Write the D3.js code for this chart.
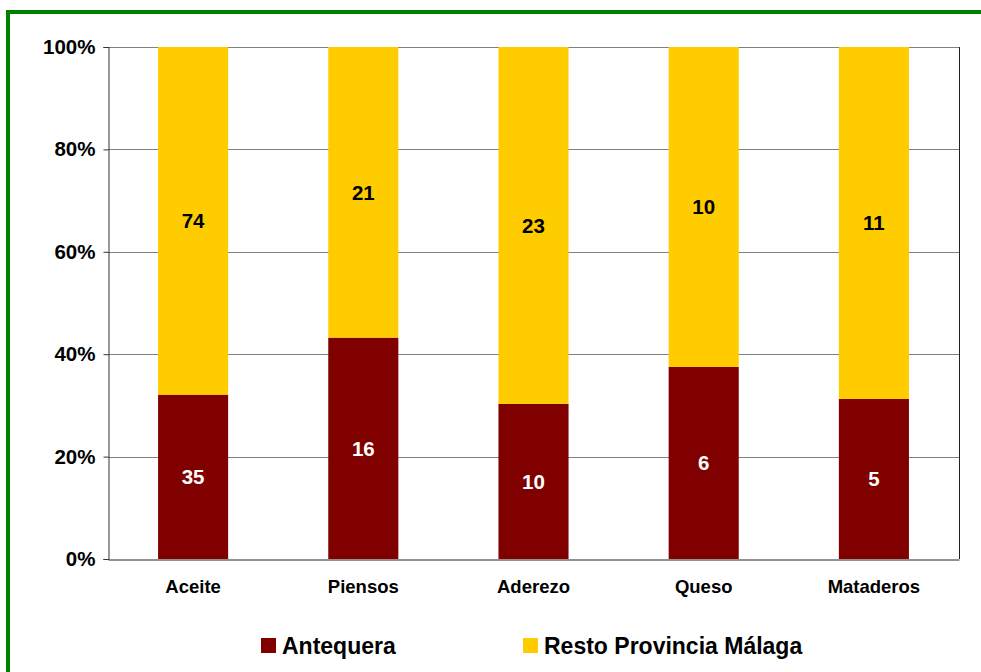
<!DOCTYPE html>
<html>
<head>
<meta charset="utf-8">
<script src="https://cdn.jsdelivr.net/npm/d3@7"></script>
<style>
  body { margin: 0; background: #fff; }
  svg text { font-family: "Liberation Sans", Arial, sans-serif; font-weight: bold; }
</style>
</head>
<body>
<div id="chart"></div>
<script>
// chart data
const categories = ['Aceite', 'Piensos', 'Aderezo', 'Queso', 'Mataderos'];
const antequera = [35, 16, 10, 6, 5];
const restoProvincia = [74, 21, 23, 10, 11];
const seriesNames = ['Antequera', 'Resto Provincia Málaga'];
const yTicks = [0, 0.2, 0.4, 0.6, 0.8, 1];

const width = 981, height = 672;
const margin = { top: 47, right: 22, bottom: 113, left: 108 };
const colors = ['#800000', '#FFCC00'];

const svg = d3.select('#chart').append('svg')
  .attr('width', width)
  .attr('height', height);

// green frame, runs off the right and bottom edges
svg.append('rect')
  .attr('x', 8).attr('y', 12)
  .attr('width', width + 20).attr('height', height + 20)
  .attr('fill', 'none')
  .attr('stroke', '#008000')
  .attr('stroke-width', 4);

const plotW = width - margin.left - margin.right;
const plotH = height - margin.top - margin.bottom;

const g = svg.append('g')
  .attr('transform', 'translate(' + margin.left + ',' + margin.top + ')');

const x = d3.scaleBand()
  .domain(categories)
  .range([0, plotW])
  .paddingInner(100 / 170)
  .paddingOuter(50 / 170);

const y = d3.scaleLinear().domain([0, 1]).range([plotH, 0]);

// gridlines
g.append('g').attr('class', 'grid')
  .selectAll('line')
  .data(yTicks.filter(d => d > 0))
  .enter().append('line')
  .attr('x1', 0).attr('x2', plotW)
  .attr('y1', d => Math.round(y(d)) + 0.5)
  .attr('y2', d => Math.round(y(d)) + 0.5)
  .attr('stroke', '#808080')
  .attr('stroke-width', 1);

// stacked shares
const rows = categories.map((c, i) => {
  const total = antequera[i] + restoProvincia[i];
  return { cat: c, vals: [antequera[i], restoProvincia[i]], total: total };
});

rows.forEach(row => {
  let acc = 0;
  row.vals.forEach((v, k) => {
    const y0 = acc / row.total;
    const y1 = (acc + v) / row.total;
    acc += v;
    g.append('rect')
      .attr('x', x(row.cat))
      .attr('y', y(y1))
      .attr('width', x.bandwidth())
      .attr('height', y(y0) - y(y1))
      .attr('fill', colors[k]);
    g.append('text')
      .attr('x', x(row.cat) + x.bandwidth() / 2)
      .attr('y', (y(y0) + y(y1)) / 2)
      .attr('dy', '0.36em')
      .attr('text-anchor', 'middle')
      .attr('font-size', 20.5)
      .attr('fill', k === 0 ? '#fff' : '#000')
      .text(v);
  });
});

// right border of plot
g.append('line')
  .attr('x1', plotW + 0.5).attr('x2', plotW + 0.5)
  .attr('y1', 0).attr('y2', plotH)
  .attr('stroke', '#222');

// y axis
const yAxis = g.append('g')
  .attr('transform', 'translate(0.5,0)')
  .call(d3.axisLeft(y).tickValues(yTicks).tickFormat(d3.format('.0%')).tickSize(5).tickPadding(8));
yAxis.select('.domain').attr('stroke', '#333');
yAxis.selectAll('.tick line').attr('stroke', '#333');
yAxis.selectAll('text').attr('font-size', 20.5).attr('fill', '#000');

// x axis
const xAxis = g.append('g')
  .attr('transform', 'translate(0,' + (plotH + 0.5) + ')')
  .call(d3.axisBottom(x).tickSize(0).tickPadding(20));
xAxis.select('.domain').attr('stroke', '#222');
xAxis.selectAll('text').attr('font-size', 18.5).attr('fill', '#000');

// legend
const legendPos = [261, 523];
const legend = svg.append('g').attr('class', 'legend');
seriesNames.forEach((name, i) => {
  legend.append('rect')
    .attr('x', legendPos[i]).attr('y', 638)
    .attr('width', 15).attr('height', 15)
    .attr('fill', colors[i]);
  legend.append('text')
    .attr('x', legendPos[i] + 21).attr('y', 646)
    .attr('dy', '0.36em')
    .attr('font-size', 23)
    .attr('fill', '#000')
    .text(name);
});
</script>
</body>
</html>
